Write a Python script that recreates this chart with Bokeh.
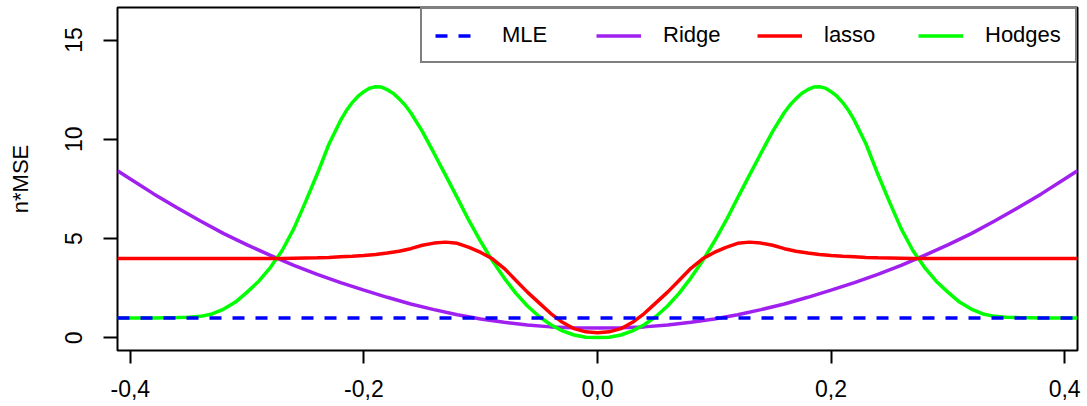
from bokeh.plotting import figure
from bokeh.models import Range1d, FixedTicker, Legend, LegendItem
from bokeh.embed import file_html
from bokeh.resources import INLINE

# ---- data ----
theta = [-0.411, -0.40, -0.39, -0.38, -0.37, -0.36, -0.35, -0.34, -0.33, -0.32, -0.31,
         -0.30, -0.29, -0.28, -0.27, -0.26, -0.25, -0.24, -0.23, -0.22, -0.21,
         -0.20, -0.19, -0.18, -0.17, -0.16, -0.15, -0.14, -0.13, -0.12, -0.11,
         -0.10, -0.09, -0.08, -0.07, -0.06, -0.05, -0.04, -0.03, -0.02, -0.01,
         0.00,
         0.01, 0.02, 0.03, 0.04, 0.05, 0.06, 0.07, 0.08, 0.09, 0.10,
         0.11, 0.12, 0.13, 0.14, 0.15, 0.16, 0.17, 0.18, 0.19, 0.20,
         0.21, 0.22, 0.23, 0.24, 0.25, 0.26, 0.27, 0.28, 0.29, 0.30,
         0.31, 0.32, 0.33, 0.34, 0.35, 0.36, 0.37, 0.38, 0.39, 0.40, 0.411]

hodges_theta = [-0.411, -0.40, -0.39, -0.38, -0.37, -0.36, -0.35, -0.34, -0.33, -0.32, -0.31,
                -0.30, -0.29, -0.28, -0.27, -0.26, -0.25, -0.24, -0.23, -0.22, -0.215, -0.21,
                -0.205, -0.20, -0.195, -0.19, -0.185, -0.18, -0.175, -0.17, -0.165, -0.16,
                -0.15, -0.14, -0.13, -0.12, -0.11,
                -0.10, -0.09, -0.08, -0.07, -0.06, -0.05, -0.04, -0.03, -0.02, -0.01,
                0.00,
                0.01, 0.02, 0.03, 0.04, 0.05, 0.06, 0.07, 0.08, 0.09, 0.10,
                0.11, 0.12, 0.13, 0.14, 0.15, 0.16, 0.165, 0.17, 0.175, 0.18,
                0.185, 0.19, 0.195, 0.20, 0.205, 0.21, 0.215, 0.22, 0.23, 0.24,
                0.25, 0.26, 0.27, 0.28, 0.29, 0.30,
                0.31, 0.32, 0.33, 0.34, 0.35, 0.36, 0.37, 0.38, 0.39, 0.40, 0.411]
hodges = [1.00, 1.00, 1.00, 1.00, 1.01, 1.02, 1.04, 1.08, 1.20, 1.45, 1.80,
          2.30, 2.85, 3.55, 4.40, 5.50, 6.85, 8.25, 9.75, 10.95, 11.45, 11.85,
          12.17, 12.40, 12.58, 12.65, 12.63, 12.50, 12.32, 12.05, 11.74, 11.35,
          10.40, 9.30, 8.18, 7.05, 5.90,
          4.85, 3.88, 3.02, 2.25, 1.60, 1.07, 0.66, 0.35, 0.14, 0.03,
          0.01,
          0.03, 0.14, 0.35, 0.66, 1.07, 1.60, 2.25, 3.02, 3.88, 4.85,
          5.90, 7.05, 8.18, 9.30, 10.40, 11.35, 11.74, 12.05, 12.32, 12.50,
          12.63, 12.65, 12.58, 12.40, 12.17, 11.85, 11.45, 10.95, 9.75, 8.25,
          6.85, 5.50, 4.40, 3.55, 2.85, 2.30,
          1.80, 1.45, 1.20, 1.08, 1.04, 1.02, 1.01, 1.00, 1.00, 1.00, 1.00]

lasso = [4.00, 4.00, 4.00, 4.00, 4.00, 4.00, 4.00, 4.00, 4.00, 4.00, 4.00,
         4.00, 4.00, 4.00, 4.00, 4.01, 4.02, 4.03, 4.05, 4.08, 4.11,
         4.15, 4.20, 4.27, 4.36, 4.49, 4.66, 4.77, 4.82, 4.76, 4.56,
         4.30, 3.98, 3.50, 2.90, 2.30, 1.76, 1.22, 0.78, 0.46, 0.30,
         0.25,
         0.30, 0.46, 0.78, 1.22, 1.76, 2.30, 2.90, 3.50, 3.98, 4.30,
         4.56, 4.76, 4.82, 4.77, 4.66, 4.49, 4.36, 4.27, 4.20, 4.15,
         4.11, 4.08, 4.05, 4.03, 4.02, 4.01, 4.00, 4.00, 4.00, 4.00,
         4.00, 4.00, 4.00, 4.00, 4.00, 4.00, 4.00, 4.00, 4.00, 4.00, 4.00]

ridge_theta = [-0.411, -0.40, -0.38, -0.36, -0.34, -0.32, -0.30, -0.28, -0.26, -0.24, -0.22,
               -0.20, -0.18, -0.16, -0.14, -0.12, -0.10, -0.08, -0.06, -0.04, -0.02,
               0.00,
               0.02, 0.04, 0.06, 0.08, 0.10, 0.12, 0.14, 0.16, 0.18, 0.20,
               0.22, 0.24, 0.26, 0.28, 0.30, 0.32, 0.34, 0.36, 0.38, 0.40, 0.411]
ridge = [8.42, 8.00, 7.25, 6.55, 5.88, 5.25, 4.68, 4.15, 3.65, 3.20, 2.78,
         2.40, 2.04, 1.70, 1.42, 1.16, 0.95, 0.78, 0.64, 0.55, 0.50,
         0.49,
         0.50, 0.55, 0.64, 0.78, 0.95, 1.16, 1.42, 1.70, 2.04, 2.40,
         2.78, 3.20, 3.65, 4.15, 4.68, 5.25, 5.88, 6.55, 7.25, 8.00, 8.42]

mle_theta = [-0.411, 0.411]
mle = [1.0, 1.0]

x_ticks = [-0.4, -0.2, 0.0, 0.2, 0.4]
x_tick_labels = ["-0,4", "-0,2", "0,0", "0,2", "0,4"]
y_ticks = [0, 5, 10, 15]

series_names = ["MLE", "Ridge", "lasso", "Hodges"]
series_colors = ["#0000FF", "#A020F0", "#FF0000", "#00FF00"]

FONT = "Liberation Sans"

p = figure(width=1087, height=406, output_backend="svg", toolbar_location=None,
           x_range=Range1d(-0.411, 0.411), y_range=Range1d(-0.64, 16.64),
           min_border_left=117, min_border_right=10, min_border_top=7, min_border_bottom=56)
p.background_fill_color = "white"
p.border_fill_color = "white"
p.outline_line_color = "black"
p.outline_line_width = 2
p.xgrid.visible = False
p.ygrid.visible = False

LW = 3.5
r_ridge = p.line(ridge_theta, ridge, line_color=series_colors[1], line_width=LW)
r_hodges = p.line(hodges_theta, hodges, line_color=series_colors[3], line_width=LW)
r_lasso = p.line(theta, lasso, line_color=series_colors[2], line_width=LW)
r_mle = p.line(mle_theta, mle, line_color=series_colors[0], line_width=LW, line_dash="12 11")

for ax in (p.xaxis[0], p.yaxis[0]):
    ax.axis_line_color = None
    ax.major_tick_line_color = "black"
    ax.major_tick_line_width = 2
    ax.major_tick_in = 0
    ax.minor_tick_line_color = None
    ax.major_label_text_font = FONT
    ax.major_label_text_font_size = "23px"
    ax.major_label_text_color = "black"

p.xaxis.ticker = FixedTicker(ticks=x_ticks)
p.xaxis.major_label_overrides = {t: l for t, l in zip(x_ticks, x_tick_labels)}
p.xaxis.major_tick_out = 13
p.xaxis.major_label_standoff = 16

p.yaxis.ticker = FixedTicker(ticks=y_ticks)
p.yaxis.major_tick_out = 14
p.yaxis.major_label_standoff = 21
p.yaxis.major_label_orientation = "vertical"
p.yaxis.axis_label = "n*MSE"
p.yaxis.axis_label_text_font = FONT
p.yaxis.axis_label_text_font_size = "22px"
p.yaxis.axis_label_text_font_style = "normal"
p.yaxis.axis_label_text_color = "black"
p.yaxis.axis_label_standoff = 30

legend = Legend(items=[LegendItem(label=series_names[0], renderers=[r_mle]),
                       LegendItem(label=series_names[1], renderers=[r_ridge]),
                       LegendItem(label=series_names[2], renderers=[r_lasso]),
                       LegendItem(label=series_names[3], renderers=[r_hodges])],
                orientation="horizontal", location="top_right", margin=0,
                padding=13, spacing=17, glyph_width=45, glyph_height=25,
                label_width=77, label_height=25, label_standoff=22,
                label_text_font=FONT, label_text_font_size="22px",
                label_text_color="black", label_text_baseline="middle",
                border_line_color="black", border_line_width=2,
                background_fill_color="white", background_fill_alpha=1.0)
p.add_layout(legend)

open("out.html", "w").write(file_html(p, INLINE))
